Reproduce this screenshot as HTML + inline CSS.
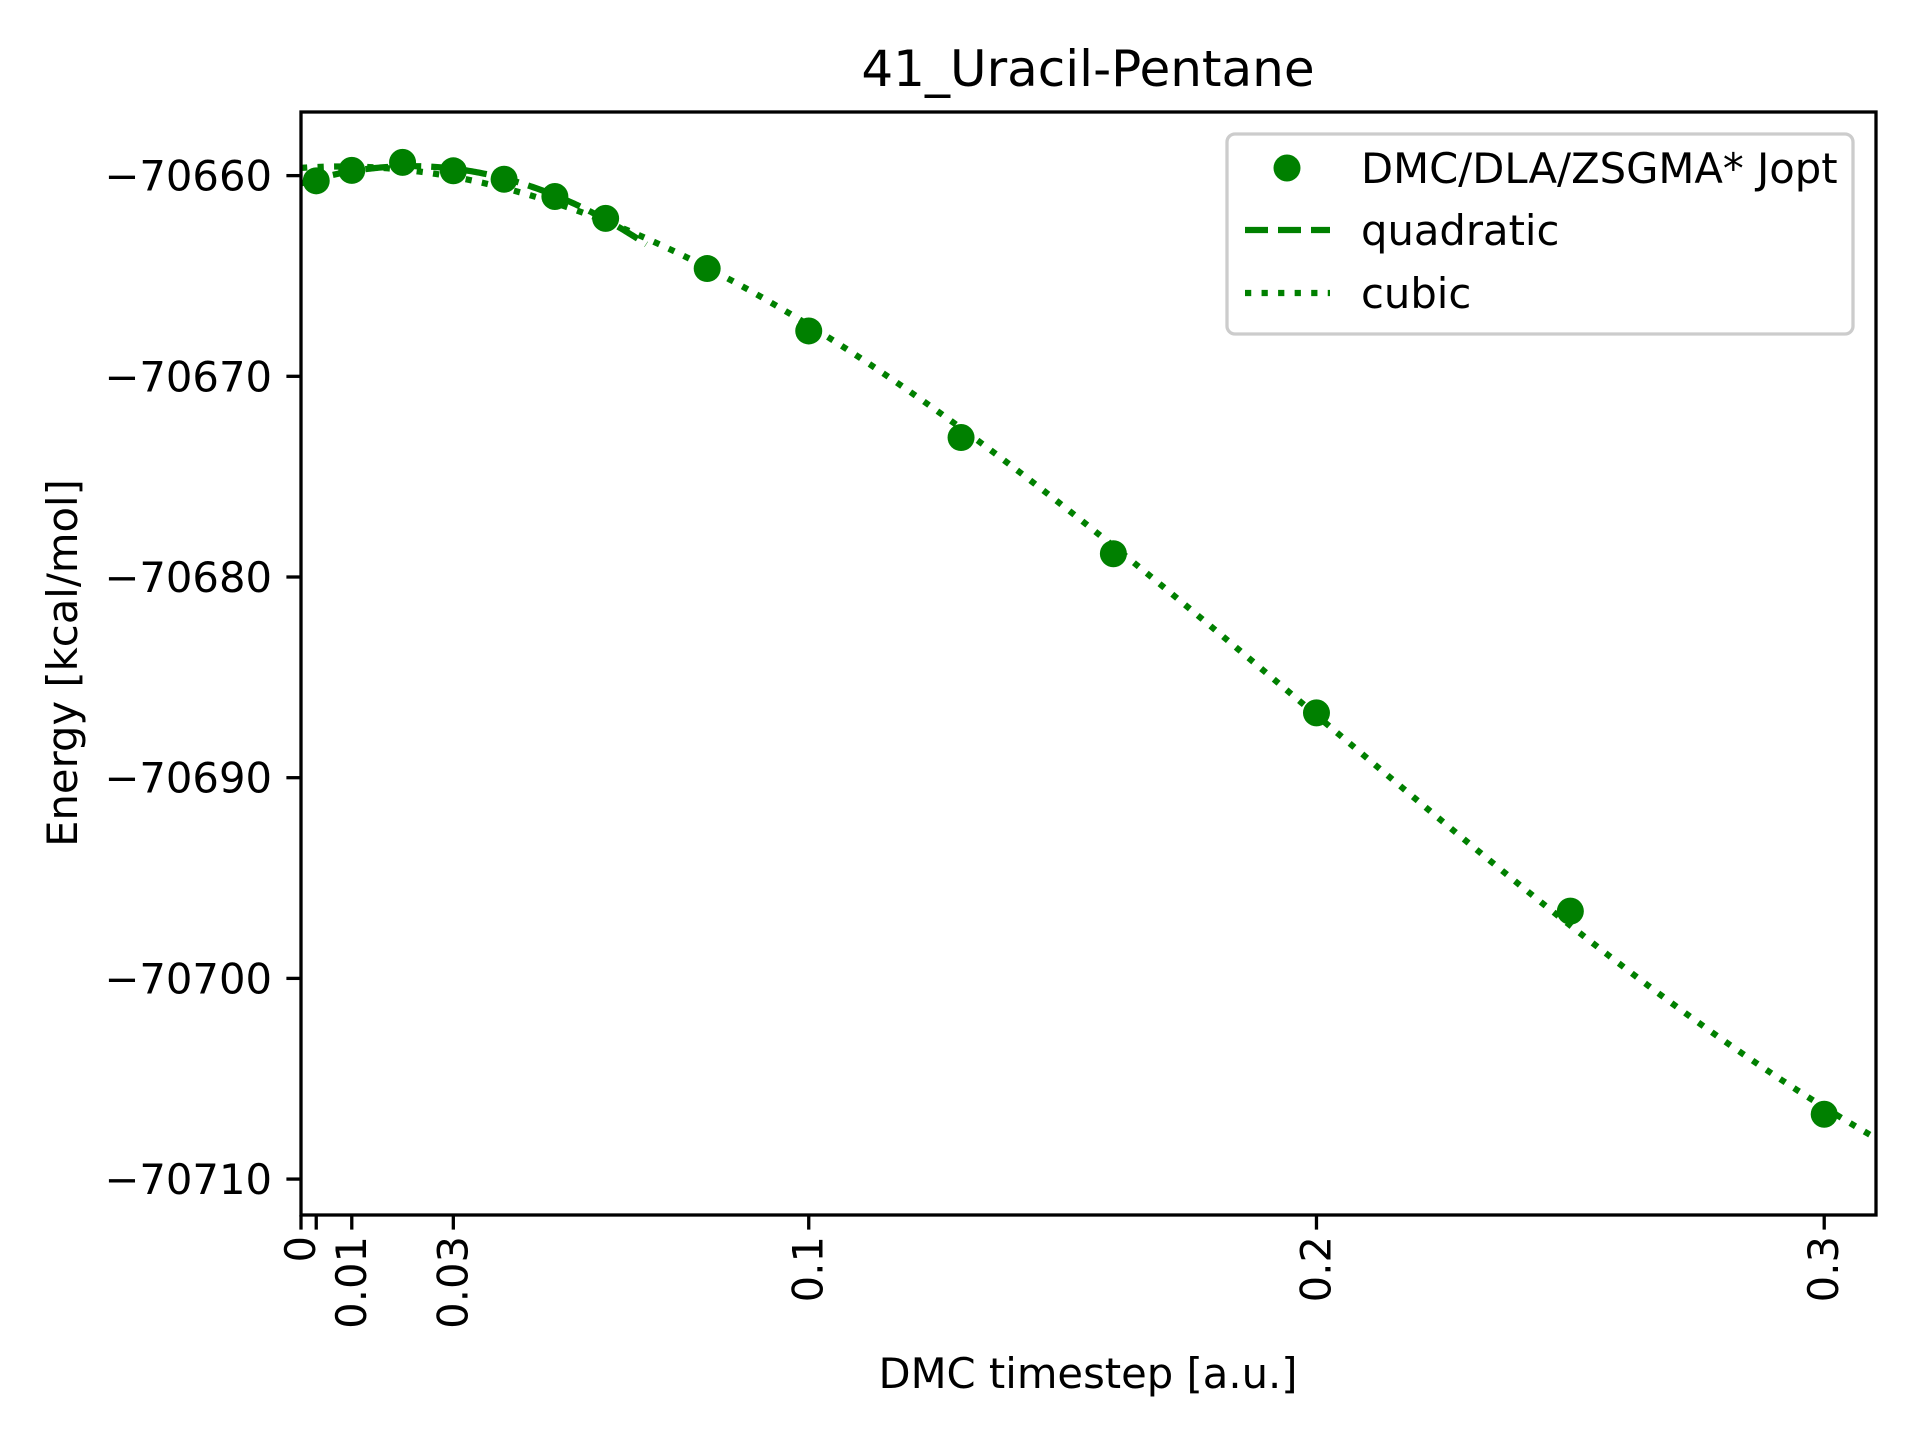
<!DOCTYPE html>
<html><head><meta charset="utf-8"><style>
html,body{margin:0;padding:0;background:#fff}
svg{display:block}
text{font-family:"DejaVu Sans","Liberation Sans",sans-serif;fill:#000}
</style></head><body>
<svg id="chart" width="1920" height="1440" viewBox="0 0 1920 1440" xmlns="http://www.w3.org/2000/svg">
<rect width="1920" height="1440" fill="#fff"/>
<text x="1088" y="86" font-size="50" text-anchor="middle">41_Uracil-Pentane</text>
<g id="plot"></g>
<text x="1088" y="1388" font-size="41.7" text-anchor="middle">DMC timestep [a.u.]</text>
<text x="0" y="0" font-size="41.7" text-anchor="middle" transform="translate(77,663) rotate(-90)">Energy [kcal/mol]</text>
</svg>
<script>
const timesteps = [0.003, 0.01, 0.02, 0.03, 0.04, 0.05, 0.06, 0.08, 0.1, 0.13, 0.16, 0.2, 0.25, 0.3];
const energies = [-70660.26, -70659.74, -70659.34, -70659.76, -70660.18, -70661.04, -70662.13, -70664.63, -70667.74, -70673.05, -70678.84, -70686.77, -70696.65, -70706.77];
const xTickValues = [0, 0.003, 0.01, 0.03, 0.1, 0.2, 0.3];
const xTickLabels = ["0", "", "0.01", "0.03", "0.1", "0.2", "0.3"];
const yTickValues = [-70660, -70670, -70680, -70690, -70700, -70710];
const yTickLabels = ["\u221270660", "\u221270670", "\u221270680", "\u221270690", "\u221270700", "\u221270710"];
const quadFitCount = 7;
const quadFitEnd = 0.068;

const L = 301, R = 1876, T = 112, B = 1215;
const xMin = 0, xMax = 0.3102, yMin = -70711.79, yMax = -70656.83;
const sx = v => L + (v - xMin) / (xMax - xMin) * (R - L);
const sy = v => B - (v - yMin) / (yMax - yMin) * (B - T);
const NS = "http://www.w3.org/2000/svg";
const plot = document.getElementById("plot");
function mk(tag, attrs, parent) {
  const e = document.createElementNS(NS, tag);
  for (const k in attrs) e.setAttribute(k, attrs[k]);
  (parent || plot).appendChild(e);
  return e;
}
function polyfit(xs, ys, deg) {
  const n = deg + 1, x0 = 0.1;
  const A = [], b = [];
  for (let i = 0; i < n; i++) { A.push(new Array(n).fill(0)); b.push(0); }
  for (let k = 0; k < xs.length; k++) {
    const t = xs[k] / x0, y = ys[k] - ys[0];
    for (let i = 0; i < n; i++) {
      b[i] += Math.pow(t, i) * y;
      for (let j = 0; j < n; j++) A[i][j] += Math.pow(t, i + j);
    }
  }
  for (let i = 0; i < n; i++) {
    let p = i; for (let r = i + 1; r < n; r++) if (Math.abs(A[r][i]) > Math.abs(A[p][i])) p = r;
    [A[i], A[p]] = [A[p], A[i]]; [b[i], b[p]] = [b[p], b[i]];
    for (let r = i + 1; r < n; r++) {
      const f = A[r][i] / A[i][i];
      for (let c = i; c < n; c++) A[r][c] -= f * A[i][c];
      b[r] -= f * b[i];
    }
  }
  const c = new Array(n).fill(0);
  for (let i = n - 1; i >= 0; i--) {
    let s = b[i]; for (let j = i + 1; j < n; j++) s -= A[i][j] * c[j];
    c[i] = s / A[i][i];
  }
  return x => { let s = 0; for (let i = 0; i < n; i++) s += c[i] * Math.pow(x / x0, i); return s + ys[0]; };
}
const cubicFn = polyfit(timesteps, energies, 3);
const quadFn = polyfit(timesteps.slice(0, quadFitCount), energies.slice(0, quadFitCount), 2);

const clip = mk("clipPath", {id: "axclip"});
mk("rect", {x: L, y: T, width: R - L, height: B - T}, clip);
const g = mk("g", {"clip-path": "url(#axclip)"});

function curvePath(fn, a, b2) {
  let d = "";
  for (let i = 0; i <= 200; i++) {
    const x = a + (b2 - a) * i / 200;
    d += (i ? "L" : "M") + sx(x).toFixed(2) + "," + sy(fn(x)).toFixed(2);
  }
  return d;
}
const cub = mk("path", {d: curvePath(cubicFn, 0, xMax), fill: "none", stroke: "#008000", "stroke-width": 6.25, "stroke-dasharray": "6.25,10.3"}, g);


const quad = mk("path", {d: curvePath(quadFn, 0, quadFitEnd), fill: "none", stroke: "#008000", "stroke-width": 6.25, "stroke-dasharray": "23,10"}, g);


for (let i = 0; i < timesteps.length; i++) {
  const c = mk("circle", {cx: sx(timesteps[i]), cy: sy(energies[i]), r: 13.5, fill: "#008000"}, g);
  
  
}

const frame = mk("rect", {x: L, y: T, width: R - L, height: B - T, fill: "none", stroke: "#000", "stroke-width": 3.3});



for (let i = 0; i < xTickValues.length; i++) {
  const x = sx(xTickValues[i]);
  const t = mk("line", {x1: x, y1: B, x2: x, y2: B + 14.6, stroke: "#000", "stroke-width": 3.3});
  
  
  if (xTickLabels[i]) {
    const lb = mk("text", {x: 0, y: 0, "font-size": 41.7, "text-anchor": "end", transform: `translate(${x + 14},${B + 21}) rotate(-90)`});
    lb.textContent = xTickLabels[i];
    
    
  }
}
for (let i = 0; i < yTickValues.length; i++) {
  const y = sy(yTickValues[i]);
  const t = mk("line", {x1: L - 14.6, y1: y, x2: L, y2: y, stroke: "#000", "stroke-width": 3.3});
  
  
  const lb = mk("text", {x: L - 29, y: y + 15, "font-size": 41.7, "text-anchor": "end"});
  lb.textContent = yTickLabels[i];
  
  
}

const leg = mk("g", {});


mk("rect", {x: 1227, y: 134, width: 626, height: 200, rx: 8, fill: "#fff", "fill-opacity": 0.8, stroke: "#ccc", "stroke-width": 3.3}, leg);
const e1 = mk("circle", {cx: 1287, cy: 168, r: 13.5, fill: "#008000"}, leg);


const e2 = mk("line", {x1: 1245, y1: 230, x2: 1330, y2: 230, stroke: "#008000", "stroke-width": 6.25, "stroke-dasharray": "23,10"}, leg);


const e3 = mk("line", {x1: 1245, y1: 293, x2: 1330, y2: 293, stroke: "#008000", "stroke-width": 6.25, "stroke-dasharray": "6.25,10.3"}, leg);


const labels = ["DMC/DLA/ZSGMA* Jopt", "quadratic", "cubic"];
const ly = [168, 230, 293];
for (let i = 0; i < 3; i++) {
  const t = mk("text", {x: 1361, y: ly[i] + 15, "font-size": 41.7}, leg);
  t.textContent = labels[i];
  
  
}
</script>
</body></html>
